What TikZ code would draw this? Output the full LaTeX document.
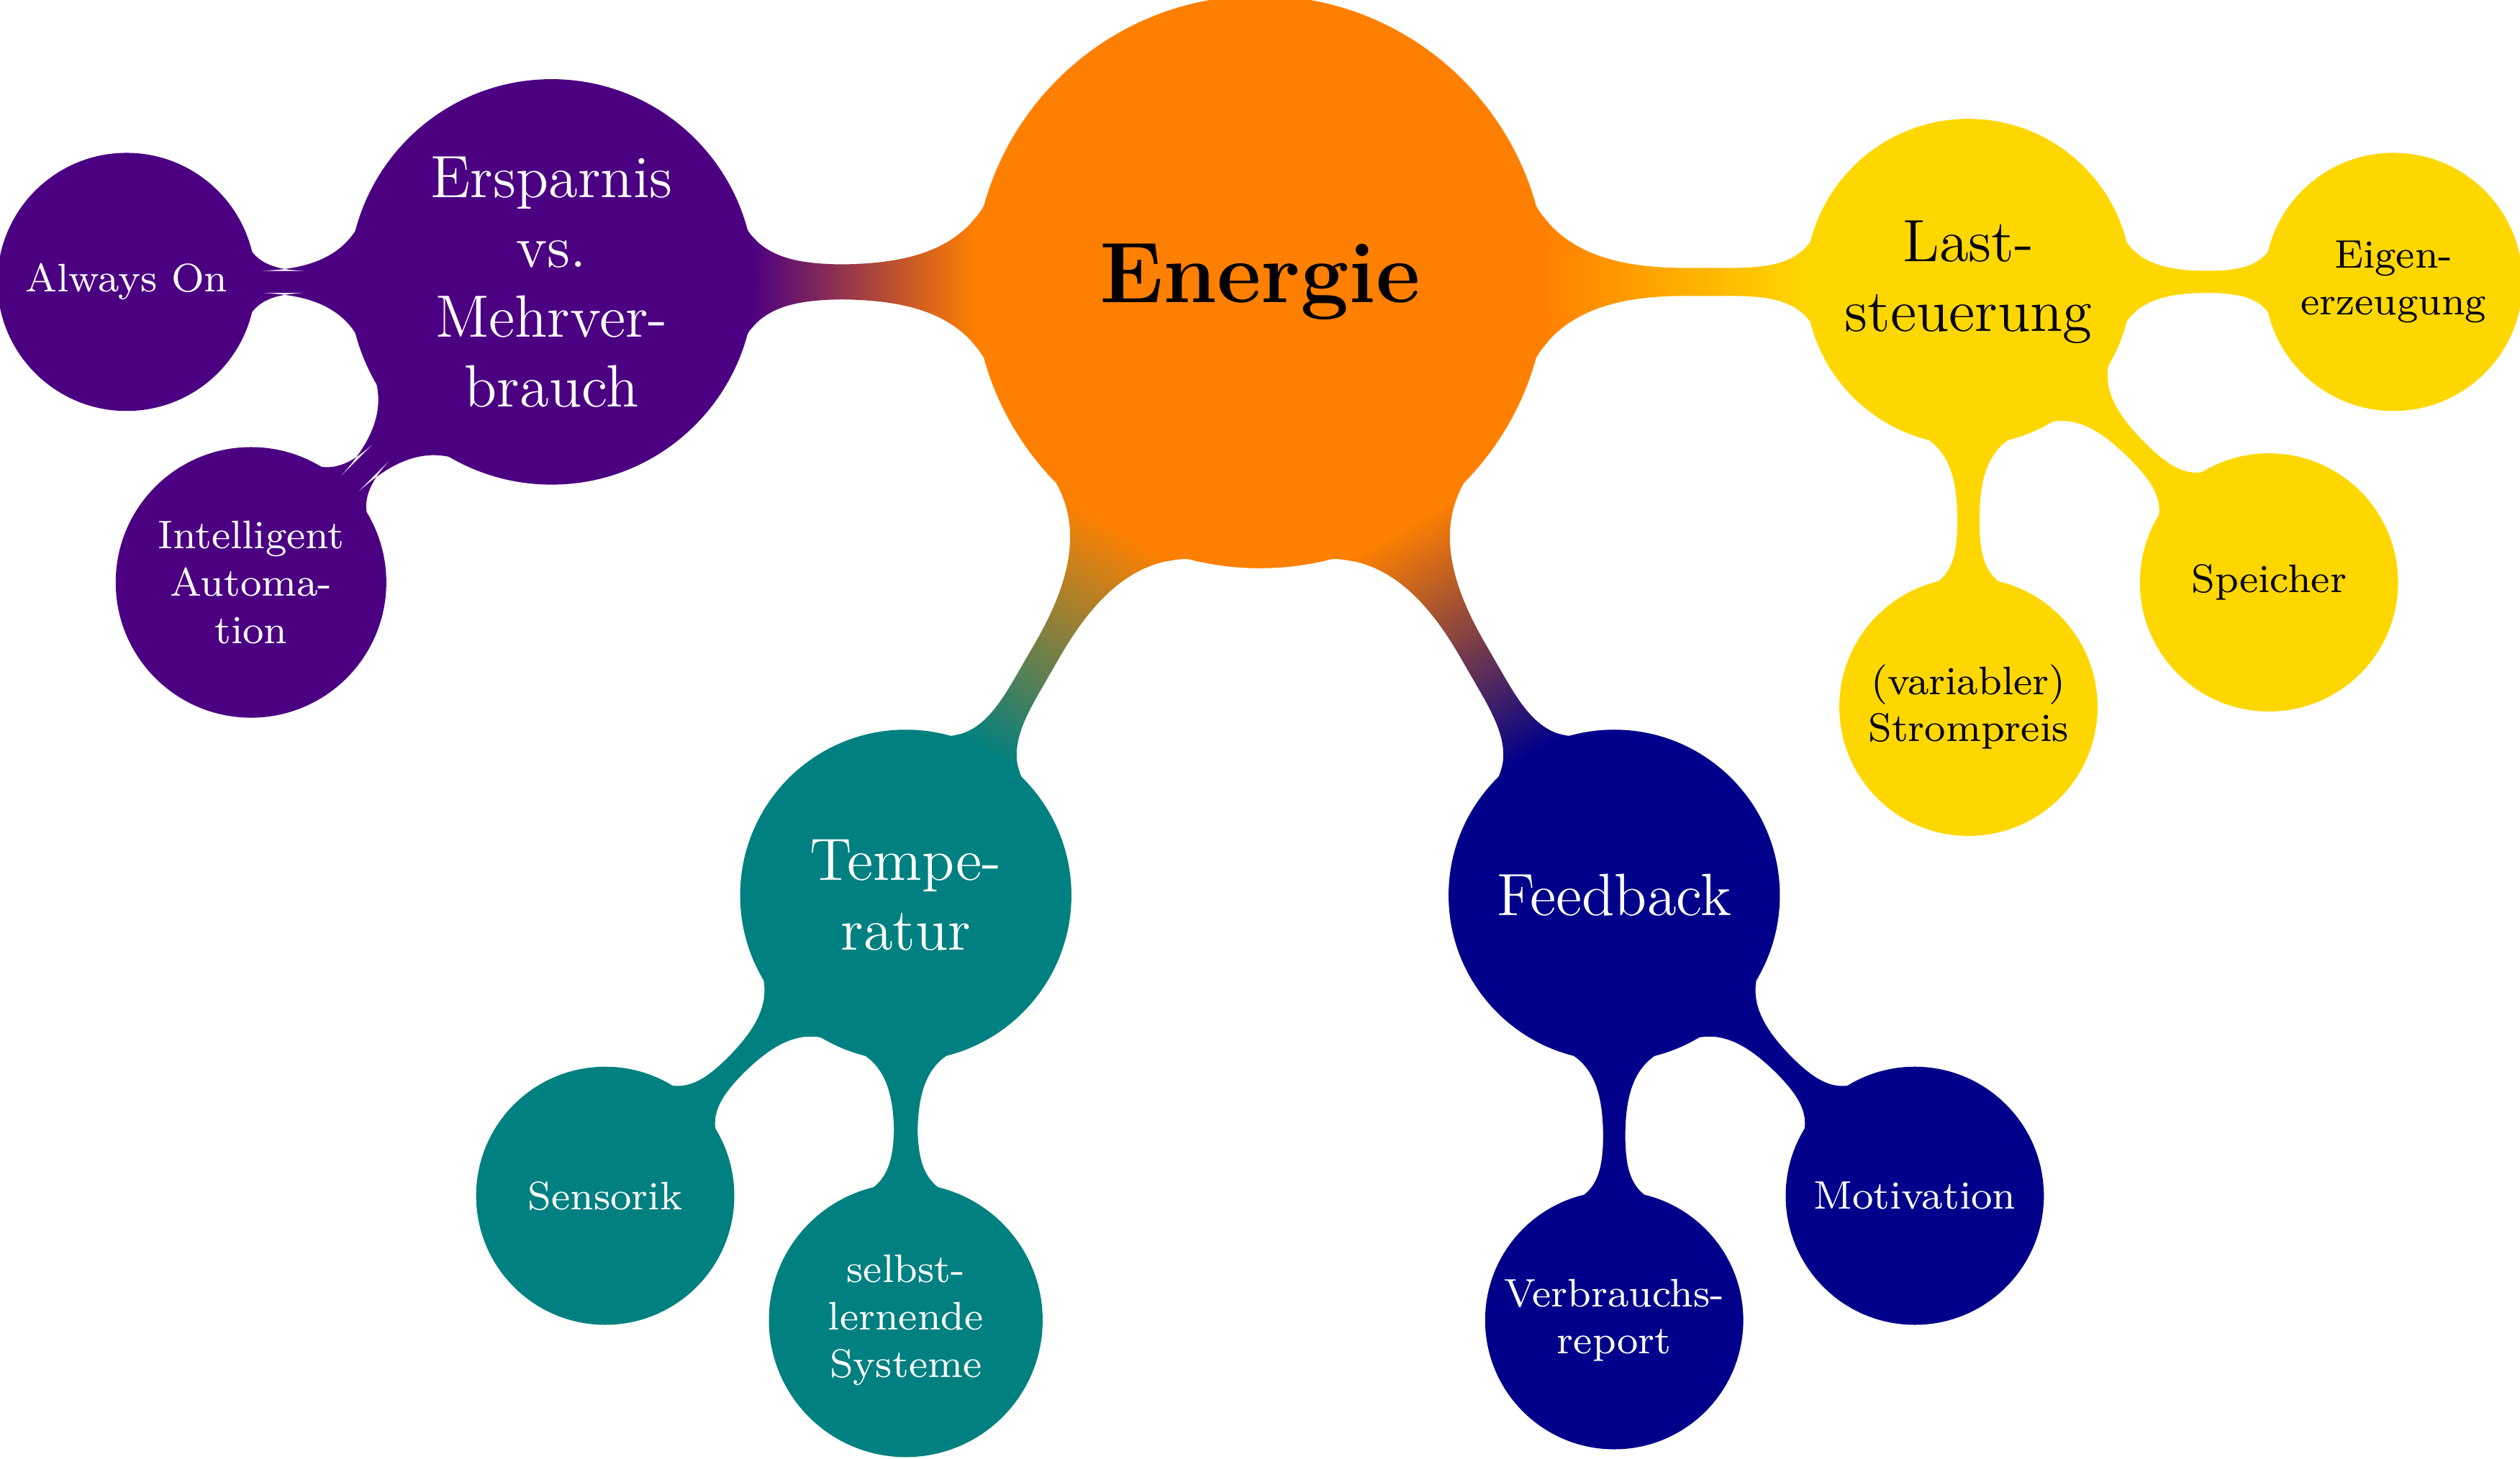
\documentclass[tikz,border=0pt]{standalone}
\usetikzlibrary{mindmap,backgrounds}
\definecolor{cOrange}{RGB}{255,128,0}
\definecolor{cIndigo}{RGB}{75,0,130}
\definecolor{cTeal}{RGB}{0,128,128}
\definecolor{cNavy}{RGB}{0,0,139}
\definecolor{cGold}{RGB}{255,215,0}
\begin{document}
\begin{tikzpicture}[mindmap,
  rootc/.style={concept, concept color=cOrange, minimum size=4cm, text width={}, inner sep=0pt, font=\LARGE\bfseries, text=black, align=center},
  lvlone/.style={concept, minimum size=2.296cm, text width={}, inner sep=0pt, font=\large, align=center},
  lvltwo/.style={concept, minimum size=1.78cm, text width={}, inner sep=0pt, font=\footnotesize, align=center}]
\useasboundingbox (-8.893,-8.305) rectangle (8.893,1.99);
% root
\node[rootc] (root) at (0,0) {Energie};
% level 1
\node[lvlone, concept color=cIndigo, text=white, minimum size=2.82cm] (ersp) at (-5,0) {Ersparnis\\vs.\\Mehrver-\\brauch};
\node[lvlone, concept color=cTeal, text=white] (temp) at (-2.5,-4.3301) {Tempe-\\ratur};
\node[lvlone, concept color=cNavy, text=white] (feed) at (2.5,-4.3301) {Feedback};
\node[lvlone, concept color=cGold, text=black, minimum size=2.26cm] (last) at (5,0) {Last-\\steuerung};
% level 2
\node[lvltwo, concept color=cIndigo, text=white] (ao) at (-8,0) {Always On};
\node[lvltwo, concept color=cIndigo, text=white, minimum size=1.868cm] (ia) at (-7.1213,-2.1213) {Intelligent\\Automa-\\tion};
\node[lvltwo, concept color=cTeal, text=white] (sens) at (-4.6213,-6.4514) {Sensorik};
\node[lvltwo, concept color=cTeal, text=white, minimum size=1.89cm] (selbst) at (-2.5,-7.3301) {selbst-\\lernende\\Systeme};
\node[lvltwo, concept color=cNavy, text=white] (verbr) at (2.5,-7.3301) {Verbrauchs-\\report};
\node[lvltwo, concept color=cNavy, text=white] (motiv) at (4.6213,-6.4514) {Motivation};
\node[lvltwo, concept color=cGold, text=black] (eig) at (8,0) {Eigen-\\erzeugung};
\node[lvltwo, concept color=cGold, text=black] (speich) at (7.1213,-2.1213) {Speicher};
\node[lvltwo, concept color=cGold, text=black] (strom) at (5,-3) {(variabler)\\Strompreis};
% connections
\begin{scope}[on background layer]
\path (root) to[circle connection bar switch color=from (cOrange) to (cIndigo)] (ersp);
\path (root) to[circle connection bar switch color=from (cOrange) to (cTeal)] (temp);
\path (root) to[circle connection bar switch color=from (cOrange) to (cNavy)] (feed);
\path (root) to[circle connection bar switch color=from (cOrange) to (cGold)] (last);
\path[concept color=cIndigo] (ersp) to[circle connection bar] (ao);
\path[concept color=cIndigo] (ersp) to[circle connection bar] (ia);
\path[concept color=cTeal] (temp) to[circle connection bar] (sens);
\path[concept color=cTeal] (temp) to[circle connection bar] (selbst);
\path[concept color=cNavy] (feed) to[circle connection bar] (verbr);
\path[concept color=cNavy] (feed) to[circle connection bar] (motiv);
\path[concept color=cGold] (last) to[circle connection bar] (eig);
\path[concept color=cGold] (last) to[circle connection bar] (speich);
\path[concept color=cGold] (last) to[circle connection bar] (strom);
\end{scope}
\end{tikzpicture}
\end{document}
